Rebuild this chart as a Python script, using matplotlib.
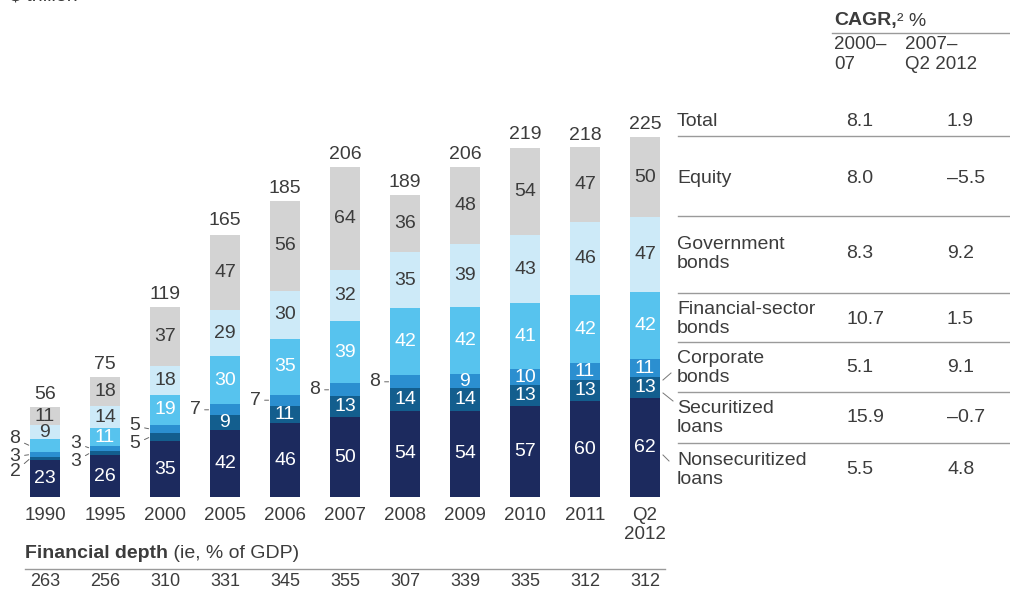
import matplotlib.pyplot as plt
from matplotlib.lines import Line2D

plt.rcParams["font.family"] = ["Liberation Sans", "DejaVu Sans"]

W, H = 1010, 593
TXT = "#3c3c3c"

years = ["1990", "1995", "2000", "2005", "2006", "2007", "2008",
         "2009", "2010", "2011", "Q2\n2012"]

# $ trillion, bottom to top of each stack
nonsec_loans = [23, 26, 35, 42, 46, 50, 54, 54, 57, 60, 62]
sec_loans = [2, 3, 5, 9, 11, 13, 14, 14, 13, 13, 13]
corp_bonds = [3, 3, 5, 7, 7, 8, 8, 9, 10, 11, 11]
fin_bonds = [8, 11, 19, 30, 35, 39, 42, 42, 41, 42, 42]
gov_bonds = [9, 14, 18, 29, 30, 32, 35, 39, 43, 46, 47]
equity = [11, 18, 37, 47, 56, 64, 36, 48, 54, 47, 50]
totals = [56, 75, 119, 165, 185, 206, 189, 206, 219, 218, 225]

depth = [263, 256, 310, 331, 345, 355, 307, 339, 335, 312, 312]

row_labels = ["Total", "Equity", "Government\nbonds", "Financial-sector\nbonds",
              "Corporate\nbonds", "Securitized\nloans", "Nonsecuritized\nloans"]
cagr_00_07 = ["8.1", "8.0", "8.3", "10.7", "5.1", "15.9", "5.5"]
cagr_07_12 = ["1.9", "\u20135.5", "9.2", "1.5", "9.1", "\u20130.7", "4.8"]

series = [nonsec_loans, sec_loans, corp_bonds, fin_bonds, gov_bonds, equity]
colors = ["#1c2a5e", "#135e8e", "#2b8fd0", "#57c3ee", "#cdeaf8", "#d3d3d3"]
label_colors = ["white", "white", "white", "white", TXT, TXT]

FS = 14


def fx(x):
    return x / W


def fy(y):
    return 1 - y / H


fig = plt.figure(figsize=(W / 100, H / 100), dpi=100)

# bar panel: baseline at y=497px, 1.6 px per $ trillion, 60 px per bar
base_px, ppu = 497, 1.6
ax = fig.add_axes([fx(15), fy(base_px), 660 / W, 240 * ppu / H])
ax.set_xlim(-0.5, 10.5)
ax.set_ylim(0, 240)
ax.axis("off")


def dy(ypx):
    return (base_px - ypx) / ppu


x = list(range(len(years)))
bottom = [0] * len(years)
bw = 0.5

# labels drawn outside the bar, offsets in pixels from the bar's left edge
outside = {(0, 3): (-15, 7), (0, 2): (-15, -2), (0, 1): (-15, -13),
           (1, 2): (-14, 5), (1, 1): (-14, -8),
           (2, 2): (-15, 3), (2, 1): (-15, -7),
           (3, 2): (-15, 0), (4, 2): (-15, 0), (5, 2): (-15, 0), (6, 2): (-15, 0)}

for s, (vals, col, lc) in enumerate(zip(series, colors, label_colors)):
    ax.bar(x, vals, bw, bottom=bottom, color=col, linewidth=0)
    for i, v in enumerate(vals):
        mid = bottom[i] + v / 2
        if (i, s) in outside:
            ox, oy = outside[(i, s)]
            ax.annotate(str(v), (i - bw / 2, mid), xytext=(ox, oy),
                        textcoords="offset pixels", ha="center", va="center",
                        fontsize=FS, color=TXT,
                        arrowprops=dict(arrowstyle="-", color="#666666", lw=0.7,
                                        shrinkA=1, shrinkB=1))
        else:
            ax.text(i, mid, str(v), ha="center", va="center", fontsize=FS, color=lc)
    bottom = [b + v for b, v in zip(bottom, vals)]

for i, t in enumerate(totals):
    ax.annotate(str(t), (i, t), xytext=(0, 8), textcoords="offset pixels",
                ha="center", va="baseline", fontsize=FS, color=TXT)

for i, yr in enumerate(years):
    ax.text(i, dy(507), yr, ha="center", va="top", fontsize=13.5, color=TXT,
            linespacing=1.15, clip_on=False)

# financial depth row
t = fig.text(fx(25), fy(554), "Financial depth", fontsize=FS, fontweight="bold",
             color=TXT, va="center")
ax.annotate(" (ie, % of GDP)", xy=(1, 0.5), xycoords=t, va="center",
            fontsize=FS, color=TXT)
fig.add_artist(Line2D([fx(25), fx(665)], [fy(569), fy(569)], color="#9a9a9a", lw=1))
for i, d in enumerate(depth):
    ax.text(i, dy(582), str(d), ha="center", va="center", fontsize=13,
            color=TXT, clip_on=False)

fig.text(fx(10), fy(-4), "$ trillion", fontsize=FS, color=TXT, va="center")

# CAGR table
c1, c2 = 846, 947
h = fig.text(fx(834), fy(21), "CAGR,", fontsize=FS, fontweight="bold",
             color=TXT, va="center")
ax.annotate("\u00b2 %", xy=(1, 0.5), xycoords=h, va="center",
            fontsize=FS, color=TXT)
fig.add_artist(Line2D([fx(832), fx(W)], [fy(33), fy(33)], color="#9a9a9a", lw=1))
fig.text(fx(834), fy(36), "2000\u2013\n07", fontsize=13.5, color=TXT, va="top",
         linespacing=1.2)
fig.text(fx(905), fy(36), "2007\u2013\nQ2 2012", fontsize=13.5, color=TXT, va="top",
         linespacing=1.2)

row_y = [122, 178, 254, 319, 368, 418, 470]
sep_y = [136, 216, 293, 342, 392, 443]
for lab, a, b, y in zip(row_labels, cagr_00_07, cagr_07_12, row_y):
    fig.text(fx(677), fy(y), lab, fontsize=FS, color=TXT, va="center",
             linespacing=1.2)
    fig.text(fx(c1), fy(y), a, fontsize=FS, color=TXT, va="center")
    fig.text(fx(c2), fy(y), b, fontsize=FS, color=TXT, va="center")
for y in sep_y:
    fig.add_artist(Line2D([fx(678), fx(W)], [fy(y), fy(y)], color="#9a9a9a", lw=1))

# leaders from the last bar to the row labels
for (x0, y0), (x1, y1) in [((663, 380), (671, 373)), ((663, 393), (673, 401)),
                           ((663, 455), (669, 461))]:
    fig.add_artist(Line2D([fx(x0), fx(x1)], [fy(y0), fy(y1)], color="#777777", lw=0.7))

fig.savefig("out.png", dpi=100, facecolor="white")
